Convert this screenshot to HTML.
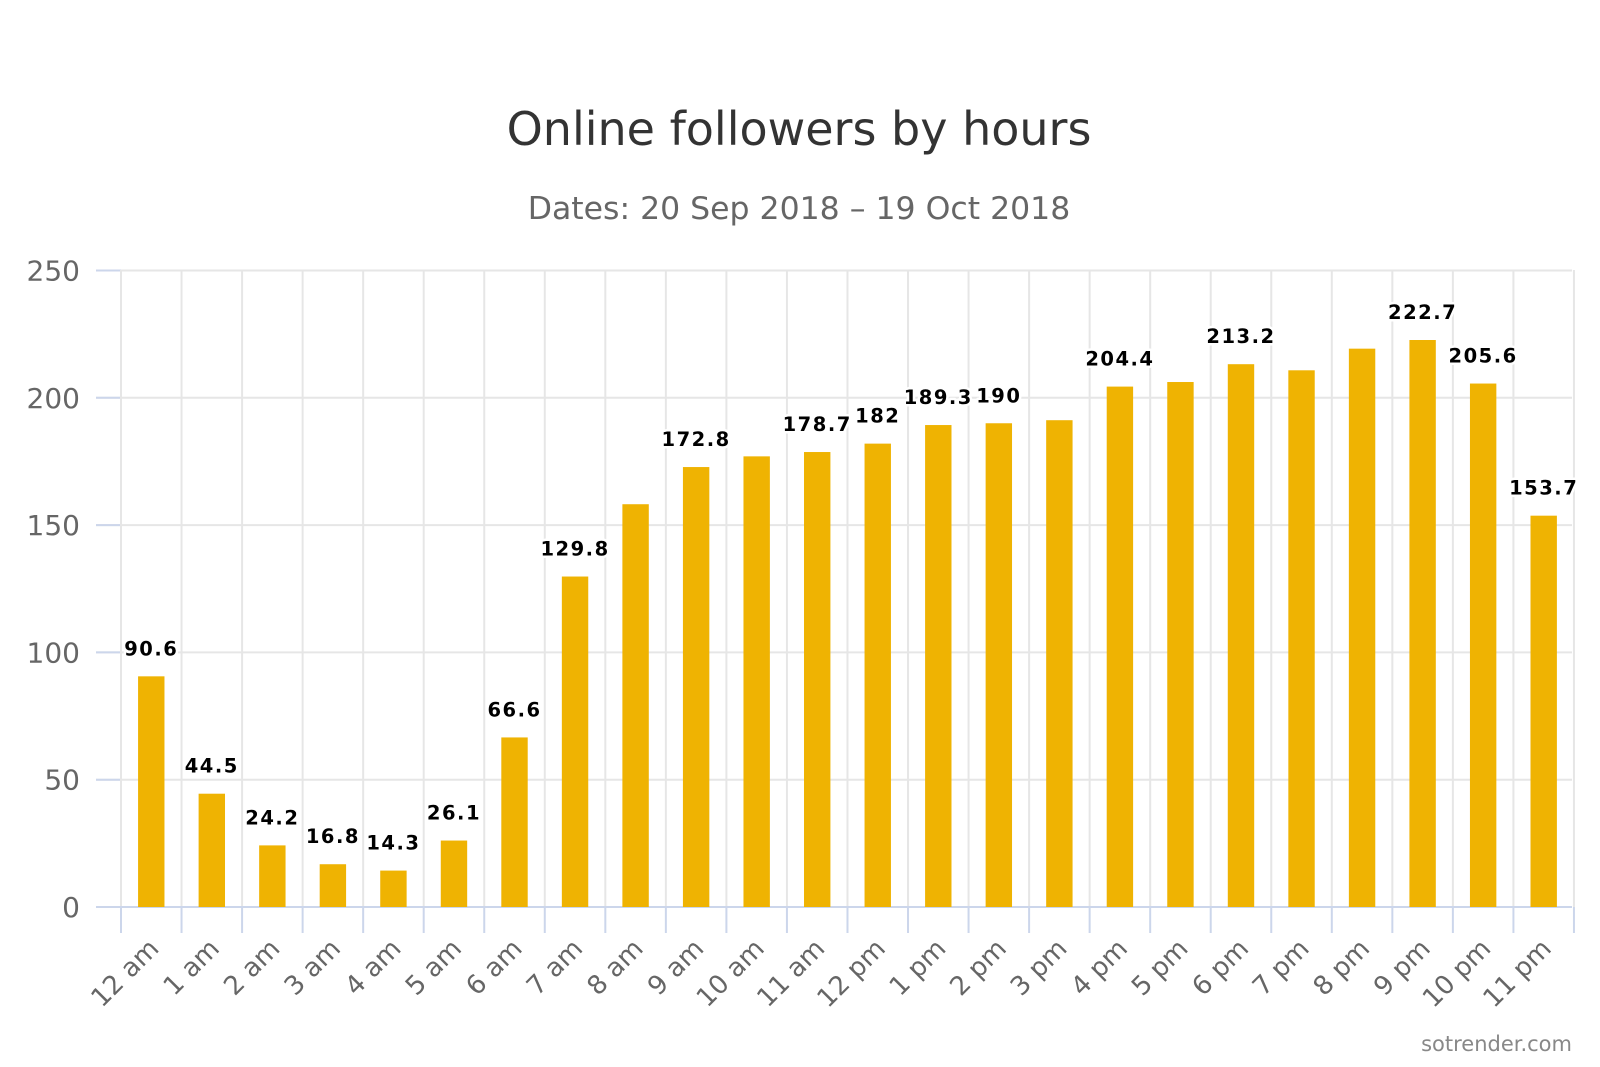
<!DOCTYPE html>
<html><head><meta charset="utf-8"><style>
html,body{margin:0;padding:0;background:#fff}
svg{display:block;font-family:"DejaVu Sans","Liberation Sans",sans-serif}
</style></head><body>
<svg width="1600" height="1067" viewBox="0 0 1600 1067" xmlns="http://www.w3.org/2000/svg">
<rect width="1600" height="1067" fill="#fff"/>
<text x="799" y="145" text-anchor="middle" font-size="46" fill="#333">Online followers by hours</text>
<text x="799" y="219" text-anchor="middle" font-size="31.5" fill="#666">Dates: 20 Sep 2018 – 19 Oct 2018</text>
<g id="g"></g>
<text x="1572" y="1051" text-anchor="end" font-size="21" fill="#888">sotrender.com</text>
</svg>
<script>
const vals=[90.6,44.5,24.2,16.8,14.3,26.1,66.6,129.8,158.2,172.8,177,178.7,182,189.3,190,191.2,204.4,206.2,213.2,210.8,219.3,222.7,205.6,153.7];
const show=[1,1,1,1,1,1,1,1,0,1,0,1,1,1,1,0,1,0,1,0,0,1,1,1];
const cats=["12 am","1 am","2 am","3 am","4 am","5 am","6 am","7 am","8 am","9 am","10 am","11 am","12 pm","1 pm","2 pm","3 pm","4 pm","5 pm","6 pm","7 pm","8 pm","9 pm","10 pm","11 pm"];
const y0=907,k=2.546,x0=121,w=60.54;
let s='';
for(let v=0;v<=250;v+=50){const y=y0-v*k;
 s+=`<line x1="96" x2="1572" y1="${y}" y2="${y}" stroke="#e6e6e6" stroke-width="2"/>`;
 s+=`<line x1="96" x2="121" y1="${y}" y2="${y}" stroke="#ccd6eb" stroke-width="2"/>`;
 s+=`<text x="80" y="${y+10}" text-anchor="end" font-size="28" fill="#666">${v}</text>`;}
for(let i=0;i<=24;i++){const x=x0+i*w;
 s+=`<line x1="${x}" x2="${x}" y1="270" y2="${y0}" stroke="#e6e6e6" stroke-width="2"/>`;
 s+=`<line x1="${x}" x2="${x}" y1="${y0}" y2="933" stroke="#ccd6eb" stroke-width="2"/>`;}
s+=`<line x1="96" x2="1572" y1="${y0}" y2="${y0}" stroke="#ccd6eb" stroke-width="2"/>`;
vals.forEach((v,i)=>{const c=x0+w*(i+0.5),t=y0-v*k;
 s+=`<rect x="${c-13.2}" y="${t}" width="26.4" height="${y0-t}" fill="#efb302"/>`;
 if(show[i]) s+=`<text x="${c}" y="${t-21}" text-anchor="middle" font-size="19.5" font-weight="bold" letter-spacing="1.5" fill="#000" stroke="#fff" stroke-width="5" paint-order="stroke" stroke-linejoin="round">${v}</text>`;
 s+=`<text transform="translate(${c+9},950) rotate(-45)" text-anchor="end" font-size="26" fill="#666">${cats[i]}</text>`;
});
document.getElementById('g').innerHTML=s;
</script>
</body></html>
